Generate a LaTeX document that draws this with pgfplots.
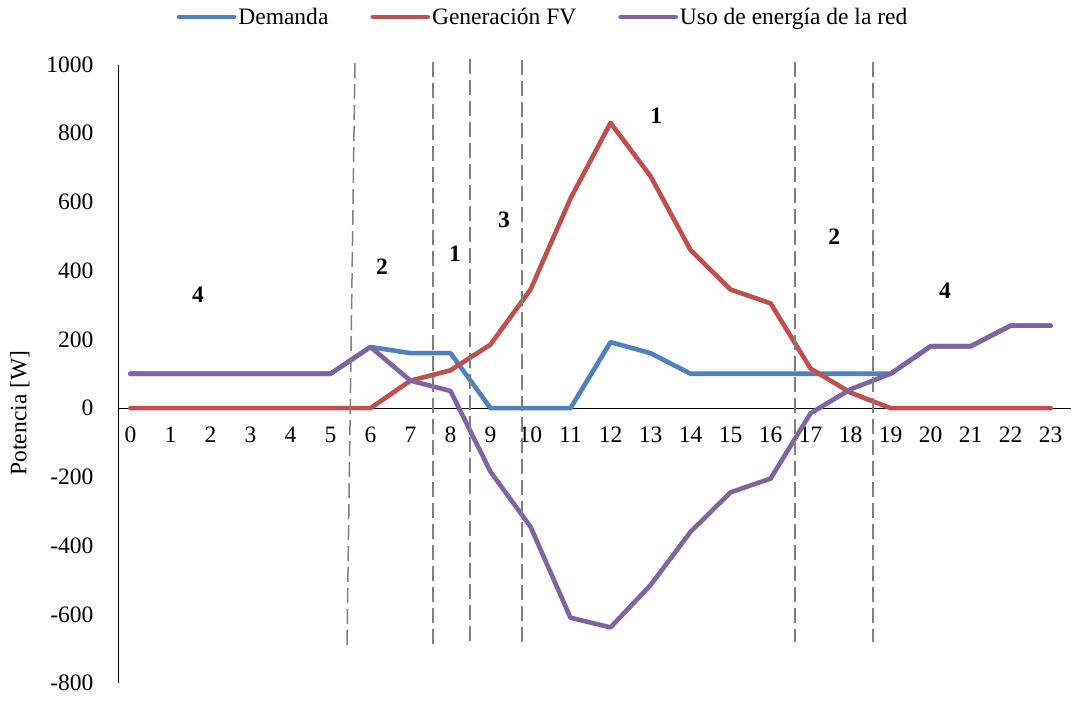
\documentclass[border=0pt]{standalone}
\usepackage{pgfplots}
\pgfplotsset{compat=1.18}
\usepackage{fontspec}
\setmainfont{Liberation Serif}
\definecolor{cDem}{HTML}{4F81BD}
\definecolor{cGen}{HTML}{C0504D}
\definecolor{cUso}{HTML}{8064A2}
\definecolor{cDash}{HTML}{808080}
\begin{document}
\begin{tikzpicture}
\begin{axis}[
  scale only axis,
  width=953bp, height=618.5bp,
  xmin=-0.31, xmax=23.51,
  ymin=-800, ymax=1000,
  clip=false,
  axis x line=middle, axis y line=left,
  axis line style={-, black, line width=0.9bp},
  hide obscured x ticks=false, hide obscured y ticks=false,
  major tick length=0pt,
  xtick={0,1,...,23},
  ytick={-800,-600,...,1000},
  font=\fontsize{23.6}{28}\selectfont,
  /pgf/number format/assume math mode=true,
  /pgf/number format/1000 sep={},
  xticklabel style={yshift=-15bp},
  yticklabel style={xshift=-21bp},
  ylabel={Potencia [W]},
  ylabel style={at={(axis description cs:-0.103,0.4365)}, anchor=center, rotate=0},
  legend style={at={(axis description cs:0.446,1.077)}, anchor=center, draw=none, fill=none,
    legend columns=-1, /tikz/every even column/.append style={column sep=40bp},
    nodes={inner sep=2bp}},
  legend image code/.code={\draw[#1] (0bp,0bp) -- (55bp,0bp);},
  every axis plot/.append style={line width=4.6bp, line cap=round, line join=round},
]
\addplot[cDem] coordinates {(0,100) (1,100) (2,100) (3,100) (4,100) (5,100) (6,178) (7,160) (8,160) (9,0) (10,0) (11,0) (12,192) (13,160) (14,100) (15,100) (16,100) (17,100) (18,100) (19,100) (20,180) (21,180) (22,240) (23,240)};
\addlegendentry{Demanda}
\addplot[cGen] coordinates {(0,0) (1,0) (2,0) (3,0) (4,0) (5,0) (6,0) (7,80) (8,110) (9,185) (10,345) (11,610) (12,830) (13,675) (14,460) (15,345) (16,305) (17,115) (18,45) (19,0) (20,0) (21,0) (22,0) (23,0)};
\addlegendentry{Generación FV}
\addplot[cUso] coordinates {(0,100) (1,100) (2,100) (3,100) (4,100) (5,100) (6,178) (7,80) (8,50) (9,-185) (10,-345) (11,-610) (12,-638) (13,-515) (14,-360) (15,-245) (16,-205) (17,-15) (18,55) (19,100) (20,180) (21,180) (22,240) (23,240)};
\addlegendentry{Uso de energía de la red}
% dashed separators
\addplot[cDash, line width=1.5bp, line cap=butt, dash pattern=on 15bp off 6bp, forget plot] coordinates {(5.6125,1004) (5.4125,-700)};
\addplot[cDash, line width=1.5bp, line cap=butt, dash pattern=on 15bp off 6bp, forget plot] coordinates {(7.5625,1007) (7.5625,-697)};
\addplot[cDash, line width=1.5bp, line cap=butt, dash pattern=on 15bp off 6bp, forget plot] coordinates {(8.4875,1016) (8.4875,-695)};
\addplot[cDash, line width=1.5bp, line cap=butt, dash pattern=on 15bp off 6bp, forget plot] coordinates {(9.7875,1013) (9.7875,-695)};
\addplot[cDash, line width=1.5bp, line cap=butt, dash pattern=on 15bp off 6bp, forget plot] coordinates {(16.6125,1007) (16.6125,-682)};
\addplot[cDash, line width=1.5bp, line cap=butt, dash pattern=on 15bp off 6bp, forget plot] coordinates {(18.5625,1007) (18.5625,-682)};
% zone labels
\node[font=\fontsize{23.6}{28}\selectfont\bfseries] at (axis cs:1.69,329) {4};
\node[font=\fontsize{23.6}{28}\selectfont\bfseries] at (axis cs:6.29,413) {2};
\node[font=\fontsize{23.6}{28}\selectfont\bfseries] at (axis cs:8.11,448) {1};
\node[font=\fontsize{23.6}{28}\selectfont\bfseries] at (axis cs:9.34,547) {3};
\node[font=\fontsize{23.6}{28}\selectfont\bfseries] at (axis cs:13.14,850) {1};
\node[font=\fontsize{23.6}{28}\selectfont\bfseries] at (axis cs:17.59,500) {2};
\node[font=\fontsize{23.6}{28}\selectfont\bfseries] at (axis cs:20.36,343) {4};
% page frame
\path (axis description cs:-0.1238,-0.0275) rectangle (axis description cs:1.0010,1.1043);
\end{axis}
\end{tikzpicture}
\end{document}
